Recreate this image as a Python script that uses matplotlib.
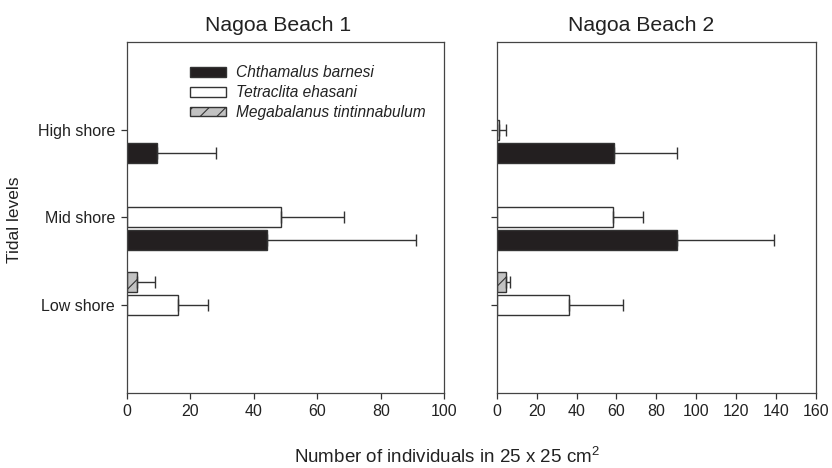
import numpy as np
import matplotlib
matplotlib.use("Agg")
import matplotlib.pyplot as plt

plt.rcParams["font.family"] = ["Liberation Sans", "DejaVu Sans"]
plt.rcParams["mathtext.fontset"] = "custom"
plt.rcParams["mathtext.rm"] = "Liberation Sans"
plt.rcParams["hatch.linewidth"] = 0.8

levels = ["Low shore", "Mid shore", "High shore"]
species = ["Chthamalus barnesi", "Tetraclita ehasani", "Megabalanus tintinnabulum"]

# Nagoa Beach 1 (mean, +SD) per level: Low, Mid, High
b1_chth = [0, 44.3, 9.6]
b1_chth_sd = [0, 46.8, 18.4]
b1_tetra = [16.2, 48.5, 0]
b1_tetra_sd = [9.3, 20.0, 0]
b1_mega = [3.2, 0, 0]
b1_mega_sd = [5.6, 0, 0]

# Nagoa Beach 2
b2_chth = [0, 90.3, 58.8]
b2_chth_sd = [0, 48.8, 31.7]
b2_tetra = [36.1, 58.1, 1.3]
b2_tetra_sd = [27.0, 15.0, 3.4]
b2_mega = [4.5, 0, 0]
b2_mega_sd = [2.2, 0, 0]

edge = "#333333"
styles = [dict(color="#231f20", hatch=None),
          dict(color="white", hatch=None),
          dict(color="#c2c2c2", hatch="//")]
offsets = [-0.26, 0.0, 0.26]
h = 0.23


def panel(ax, series, sds, title, xmax, title_x):
    y = np.arange(len(levels))
    for vals, sd, st, off, name in zip(series, sds, styles, offsets, species):
        vals = np.array(vals, float)
        sd = np.array(sd, float)
        keep = vals > 0
        ax.barh((y + off)[keep], vals[keep], height=h, color=st["color"],
                hatch=st["hatch"], edgecolor=edge, linewidth=1.0, label=name,
                zorder=2)
        m = sd > 0
        ax.errorbar(vals[m], (y + off)[m], xerr=[np.zeros(m.sum()), sd[m]],
                    fmt="none", ecolor=edge, elinewidth=1.0, capsize=4.3,
                    capthick=1.0, zorder=3)
    ax.set_xlim(0, xmax)
    ax.set_ylim(-1, 3)
    ax.set_xticks(np.arange(0, xmax + 1, 20))
    ax.set_yticks(y)
    ax.tick_params(direction="out", length=4.5, width=0.9, colors="#333333",
                   labelcolor="#222222", labelsize=11.5, pad=4)
    for s in ax.spines.values():
        s.set_color("#444444")
        s.set_linewidth(0.9)
    ax.set_title(title, fontsize=15.3, color="#222222", pad=8.4, x=title_x)


fig = plt.figure(figsize=(8.32, 4.68), dpi=100)
ax1 = fig.add_axes([0.1523, 0.1613, 0.3817, 0.7483])
ax2 = fig.add_axes([0.597, 0.1613, 0.3838, 0.7483])

panel(ax1, [b1_chth, b1_tetra, b1_mega], [b1_chth_sd, b1_tetra_sd, b1_mega_sd],
      "Nagoa Beach 1", 100, 0.477)
panel(ax2, [b2_chth, b2_tetra, b2_mega], [b2_chth_sd, b2_tetra_sd, b2_mega_sd],
      "Nagoa Beach 2", 160, 0.452)

ax1.set_yticklabels(levels)
ax2.set_yticklabels([])

leg = ax1.legend(loc="upper left", bbox_to_anchor=(0.199, 0.935), frameon=False,
                 borderpad=0, borderaxespad=0, handlelength=2.35, handleheight=0.6,
                 handletextpad=0.6, labelspacing=0.32,
                 prop=dict(size=11.2, style="italic"))
for t in leg.get_texts():
    t.set_color("#222222")

fig.text(15 / 832, 1 - 220 / 468, "Tidal levels", rotation=90, fontsize=12.5,
         color="#222222", ha="center", va="center")
fig.text(447 / 832, 5 / 468, r"Number of individuals in 25 x 25 cm$^{2}$",
         fontsize=13.5, color="#222222", ha="center", va="baseline")

fig.savefig("out.png", dpi=100)
